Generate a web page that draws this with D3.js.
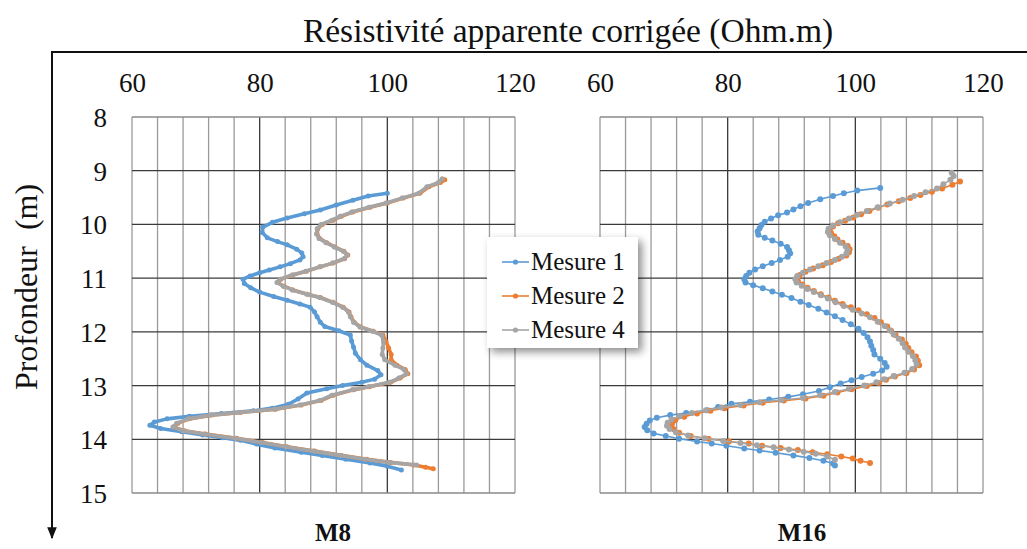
<!DOCTYPE html>
<html>
<head>
<meta charset="utf-8">
<script src="https://cdn.jsdelivr.net/npm/d3@7"></script>
<style>
html,body{margin:0;padding:0;background:#fff;}
svg{display:block;}
text{font-family:"Liberation Serif","Times New Roman",serif;fill:#111;}
</style>
</head>
<body>
<svg id="chart" width="1027" height="549"></svg>
<script>
// ---------- DATA ----------
const xTickValues = [60, 80, 100, 120];
const depthTicks = [8, 9, 10, 11, 12, 13, 14, 15];
const seriesNames = ["Mesure 1", "Mesure 2", "Mesure 4"];
const panelNames = ["M8", "M16"];
const xTitle = "Résistivité apparente corrigée (Ohm.m)";
const yTitle = "Profondeur  (m)";

// [depth (m), resistivity (Ohm.m)]
const m8Mesure1 = [[9.42,100],[9.47,97],[9.55,94.6],[9.64,92],[9.73,89.5],[9.80,87],[9.88,84.3],[9.96,82],[10.05,80.5],[10.15,80.4],[10.25,81.2],[10.32,82.8],[10.38,84.3],[10.46,85.8],[10.53,86.6],[10.60,86.8],[10.66,86.3],[10.73,84.8],[10.79,83.2],[10.85,81.5],[10.90,80],[10.96,78.5],[11.02,77.4],[11.10,77.6],[11.18,78.6],[11.26,80],[11.34,82.2],[11.41,84.3],[11.48,86.3],[11.54,87.9],[11.63,88.6],[11.72,89],[11.82,89.5],[11.90,90.2],[11.98,92.4],[12.06,94.2],[12.17,94.4],[12.28,94.7],[12.40,95],[12.52,95.8],[12.62,96.8],[12.72,98.5],[12.80,99],[12.88,98],[12.94,96],[13.00,93],[13.06,90.5],[13.14,87.4],[13.25,86],[13.35,84.5],[13.42,82],[13.47,79],[13.52,74],[13.57,69],[13.62,65.5],[13.68,63.5],[13.74,62.8],[13.80,64.5],[13.86,67.8],[13.92,71.1],[13.97,74.2],[14.02,77],[14.09,79.5],[14.16,82.4],[14.24,86.5],[14.30,89.8],[14.37,93.5],[14.44,97.3],[14.50,100],[14.57,102.2]];

const m8Mesure2 = [[9.17,109],[9.22,108.3],[9.30,106.5],[9.42,105.1],[9.51,102.5],[9.60,100],[9.68,97.3],[9.77,94.6],[9.85,92.8],[9.92,91.5],[10.00,89.8],[10.08,89.1],[10.18,89],[10.26,89.4],[10.34,90.5],[10.42,91.8],[10.50,93.2],[10.57,93.8],[10.64,93.3],[10.72,91.5],[10.79,89.5],[10.87,87.3],[10.94,85.2],[11.02,83.3],[11.08,82.8],[11.15,83.8],[11.22,85.2],[11.30,87.5],[11.36,89.5],[11.45,91.5],[11.54,93.1],[11.63,94],[11.72,94.3],[11.82,94.8],[11.91,95.8],[11.99,97.8],[12.06,99.3],[12.18,99.8],[12.30,100.2],[12.42,100.6],[12.52,100.6],[12.62,101.5],[12.70,102.8],[12.78,103.2],[12.86,102],[12.94,100.5],[13.02,97.2],[13.08,94.7],[13.18,91.5],[13.28,89.6],[13.36,86.5],[13.44,82.5],[13.50,77],[13.55,72.5],[13.62,69],[13.70,67.2],[13.77,66.5],[13.84,68.2],[13.90,71.5],[13.98,76.4],[14.06,80.5],[14.14,84.3],[14.22,88.6],[14.30,92.8],[14.37,96.8],[14.43,100.5],[14.48,104.2],[14.52,106],[14.55,107.2]];

const m8Mesure4 = [[9.15,108.6],[9.22,108],[9.30,106.2],[9.42,104.9],[9.51,102.3],[9.60,99.8],[9.68,97.1],[9.77,94.4],[9.85,92.6],[9.92,91.3],[10.00,89.6],[10.08,89],[10.18,88.9],[10.26,89.3],[10.34,90.4],[10.42,91.7],[10.50,93.1],[10.57,93.7],[10.64,93.2],[10.72,91.4],[10.79,89.4],[10.87,87.2],[10.94,85.1],[11.02,83.2],[11.08,82.7],[11.15,83.7],[11.22,85.1],[11.30,87.4],[11.36,89.4],[11.45,91.4],[11.54,93],[11.63,93.9],[11.72,94.2],[11.82,94.7],[11.91,95.7],[11.99,97.7],[12.06,99.1],[12.18,99.4],[12.30,99.3],[12.42,99.2],[12.52,99.6],[12.62,101.2],[12.70,102.6],[12.78,103],[12.86,101.8],[12.94,100.3],[13.02,97],[13.08,94.5],[13.18,91.3],[13.28,89.4],[13.36,86.3],[13.44,82.3],[13.50,76.8],[13.55,72.3],[13.62,68.8],[13.70,67],[13.77,66.4],[13.84,68],[13.90,71.3],[13.98,76.2],[14.06,80.3],[14.14,84.1],[14.22,88.4],[14.30,92.6],[14.37,96.5],[14.43,100.2],[14.48,104.6]];

const m16Mesure1 = [[9.32,103.9],[9.37,100.3],[9.42,98.2],[9.47,96.5],[9.53,94.5],[9.60,92.6],[9.66,91.4],[9.72,90.3],[9.78,89.3],[9.83,87.9],[9.89,86.8],[9.95,85.8],[10.01,85.3],[10.07,85],[10.13,84.7],[10.19,84.8],[10.25,85.8],[10.30,87],[10.36,88.3],[10.42,89.3],[10.48,89.6],[10.54,89.8],[10.60,89.4],[10.66,88.2],[10.72,86.9],[10.78,85.5],[10.84,84.3],[10.90,83.4],[10.96,82.9],[11.02,82.6],[11.08,82.8],[11.13,84],[11.19,85.5],[11.25,87],[11.31,88.5],[11.37,90],[11.44,91.4],[11.50,92.7],[11.57,94.2],[11.64,95.5],[11.71,96.8],[11.78,98],[11.86,99.3],[11.94,100.5],[12.02,101.3],[12.10,101.9],[12.18,102.3],[12.26,102.5],[12.34,102.8],[12.42,103],[12.50,103.9],[12.58,104.6],[12.65,104.9],[12.72,104.2],[12.78,102.8],[12.84,101],[12.90,99.4],[12.96,97.7],[13.03,96],[13.10,94.3],[13.16,91.8],[13.21,89.5],[13.26,86.5],[13.30,83.5],[13.34,80.6],[13.40,78.5],[13.46,76.8],[13.51,73.5],[13.55,71],[13.60,68.9],[13.65,67.8],[13.71,67.3],[13.77,67],[13.83,67.4],[13.89,68.4],[13.94,70.3],[13.99,72.4],[14.04,75.2],[14.08,77.5],[14.12,79.8],[14.17,82.6],[14.21,85],[14.25,87.5],[14.30,90.3],[14.35,92.8],[14.40,95],[14.45,96.5],[14.49,96.8]];

const m16Mesure2 = [[9.20,116.4],[9.26,115.2],[9.33,113.6],[9.39,112],[9.45,110.2],[9.51,108.6],[9.57,106.8],[9.63,105],[9.69,103.6],[9.75,102.2],[9.81,100.9],[9.87,99.7],[9.93,98.4],[9.98,97.3],[10.04,96.5],[10.10,96],[10.16,96.2],[10.22,96.7],[10.28,97.2],[10.34,98],[10.40,98.8],[10.46,99.1],[10.52,99],[10.58,98.6],[10.64,97.4],[10.70,96.2],[10.76,94.9],[10.82,93.4],[10.88,92.2],[10.94,91.3],[11.00,90.9],[11.06,91],[11.12,91.7],[11.18,92.5],[11.24,93.5],[11.30,94.6],[11.36,95.8],[11.42,96.8],[11.48,98],[11.54,99.3],[11.60,100.5],[11.67,101.8],[11.74,103],[11.82,104],[11.90,105],[11.98,105.6],[12.06,106.3],[12.14,107.3],[12.22,107.9],[12.30,108.3],[12.38,108.8],[12.46,109.5],[12.54,109.8],[12.62,110],[12.70,109.2],[12.77,108],[12.83,106.2],[12.89,104.8],[12.95,103.7],[13.01,101.8],[13.07,99.4],[13.13,97.2],[13.19,95],[13.24,92.2],[13.28,88.8],[13.32,85.5],[13.37,82.5],[13.42,79.5],[13.47,77.3],[13.52,75.2],[13.58,73.2],[13.64,71.8],[13.70,71.3],[13.76,71.2],[13.82,71.6],[13.88,72.4],[13.94,74.2],[13.99,77],[14.04,80.2],[14.08,83.3],[14.12,85.4],[14.16,88.3],[14.20,91],[14.24,93.3],[14.28,95.6],[14.32,97.8],[14.36,99.6],[14.40,100.8],[14.44,102.3]];

const m16Mesure4 = [[9.04,115.1],[9.10,115.4],[9.17,114.9],[9.25,113.8],[9.33,112.8],[9.40,111],[9.47,109.2],[9.54,107.4],[9.61,105.4],[9.68,103.5],[9.75,101.8],[9.82,100.3],[9.89,99],[9.96,97.6],[10.02,96.5],[10.08,95.8],[10.14,95.7],[10.20,96],[10.27,96.8],[10.34,97.6],[10.41,98.5],[10.48,98.8],[10.54,98.6],[10.60,97.9],[10.66,96.8],[10.72,95.5],[10.78,94.2],[10.84,92.9],[10.90,91.8],[10.96,90.9],[11.02,90.6],[11.08,90.8],[11.14,91.6],[11.20,92.5],[11.26,93.5],[11.32,94.6],[11.38,95.7],[11.45,96.9],[11.52,98.2],[11.59,99.6],[11.66,101],[11.73,102.3],[11.81,103.5],[11.89,104.6],[11.97,105.4],[12.05,106],[12.13,106.8],[12.21,107.4],[12.29,107.8],[12.37,108.3],[12.45,109],[12.53,109.4],[12.61,109.6],[12.69,108.9],[12.76,107.7],[12.82,106],[12.88,104.5],[12.94,103.3],[13.00,101.4],[13.06,99],[13.12,96.8],[13.18,94.5],[13.23,91.8],[13.27,88.4],[13.31,85],[13.36,82],[13.41,79],[13.46,76.6],[13.51,74.4],[13.57,72.5],[13.63,71.2],[13.69,70.6],[13.75,70.5],[13.81,70.9],[13.87,71.9],[13.93,73.8],[13.98,76.4],[14.03,79.3],[14.07,82],[14.11,84.6],[14.15,87.2],[14.19,89.6],[14.23,91.9],[14.27,93.8],[14.32,95.6],[14.38,96.8]];

const colors = ["#5B9BD5", "#ED7D31", "#A5A5A5"];

// ---------- LAYOUT ----------
const svg = d3.select("#chart");
const yScale = d3.scaleLinear().domain([8, 15]).range([117, 493]);
const panels = [
  {name: panelNames[0], x: d3.scaleLinear().domain([60, 120]).range([132, 515]), series: [m8Mesure1, m8Mesure2, m8Mesure4], thick: true, labelX: 333},
  {name: panelNames[1], x: d3.scaleLinear().domain([60, 120]).range([600, 983]), series: [m16Mesure1, m16Mesure2, m16Mesure4], thick: false, labelX: 802}
];

svg.append("defs").append("marker")
  .attr("id", "arrow").attr("viewBox", "0 0 10 10").attr("refX", 9).attr("refY", 5)
  .attr("markerWidth", 6).attr("markerHeight", 6).attr("orient", "auto")
  .append("path").attr("d", "M0,1 L10,5 L0,9 z").attr("fill", "#111");

const shadow = svg.select("defs").append("filter").attr("id", "shadow")
  .attr("x", "-20%").attr("y", "-20%").attr("width", "150%").attr("height", "150%");
shadow.append("feGaussianBlur").attr("in", "SourceAlpha").attr("stdDeviation", 4);
shadow.append("feOffset").attr("dx", 4).attr("dy", 4).attr("result", "ob");
shadow.append("feComponentTransfer").append("feFuncA").attr("type", "linear").attr("slope", 0.45);
const mrg = shadow.append("feMerge");
mrg.append("feMergeNode");
mrg.append("feMergeNode").attr("in", "SourceGraphic");

svg.append("line").attr("x1", 52).attr("x2", 1027).attr("y1", 52).attr("y2", 52)
  .attr("stroke", "#111").attr("stroke-width", 2);
svg.append("line").attr("x1", 52).attr("x2", 52).attr("y1", 51).attr("y2", 538)
  .attr("stroke", "#111").attr("stroke-width", 2).attr("marker-end", "url(#arrow)");

svg.append("text").attr("x", 568).attr("y", 42).attr("text-anchor", "middle")
  .style("font-size", "33.5px").text(xTitle);

svg.append("text").attr("transform", "translate(37,287) rotate(-90)")
  .attr("text-anchor", "middle").style("font-size", "32px").style("white-space", "pre")
  .attr("xml:space", "preserve").text(yTitle);

const line = (x) => d3.line().x(d => x(d[1])).y(d => yScale(d[0]));

panels.forEach((p, pi) => {
  const g = svg.append("g");
  const [x0, x1] = p.x.range();
  const vTicks = d3.range(60, 120.01, 4);
  g.selectAll(".vg").data(vTicks).join("line")
    .attr("x1", d => p.x(d)).attr("x2", d => p.x(d))
    .attr("y1", yScale(8)).attr("y2", yScale(15))
    .attr("stroke", d => (d === 80 || d === 100) ? "#3a3a3a" : "#9a9a9a")
    .attr("stroke-width", 1.3);
  g.selectAll(".hg").data(depthTicks).join("line")
    .attr("x1", x0).attr("x2", x1)
    .attr("y1", d => yScale(d)).attr("y2", d => yScale(d))
    .attr("stroke", d => (d === 8 || d === 15) ? "#8a8a8a" : "#3a3a3a")
    .attr("stroke-width", 1.3);

  const ax = g.append("g").attr("transform", "translate(0,83)")
    .call(d3.axisTop(p.x).tickValues(xTickValues).tickSize(0).tickPadding(0));
  ax.select(".domain").remove();
  ax.selectAll("text").attr("font-family", null).style("font-size", "27px").attr("dy", "0.35em").attr("y", 0).attr("fill", "#111");

  if (pi === 0) {
    const ay = g.append("g").attr("transform", "translate(107,0)")
      .call(d3.axisLeft(yScale).tickValues(depthTicks).tickSize(0).tickPadding(0).tickFormat(d3.format("d")));
    ay.select(".domain").remove();
    ay.selectAll("text").attr("font-family", null).style("font-size", "27px").attr("x", 0).attr("dy", "0.35em").attr("fill", "#111");
  }

  p.series.forEach((s, si) => {
    const sg = g.append("g");
    sg.append("path").datum(s).attr("d", line(p.x))
      .attr("fill", "none").attr("stroke", colors[si])
      .attr("stroke-width", p.thick ? 3.6 : 1.6).attr("stroke-linejoin", "round");
    sg.selectAll("circle").data(s).join("circle")
      .attr("cx", d => p.x(d[1])).attr("cy", d => yScale(d[0]))
      .attr("r", p.thick ? 2.5 : 3).attr("fill", colors[si]);
  });

  svg.append("text").attr("x", p.labelX).attr("y", 541).attr("text-anchor", "middle")
    .style("font-size", "25px").style("font-weight", "bold").text(p.name);
});

const lg = svg.append("g");
lg.append("rect").attr("x", 487).attr("y", 237).attr("width", 151).attr("height", 111)
  .attr("fill", "#fff").attr("filter", "url(#shadow)");
seriesNames.forEach((n, i) => {
  const yy = 262 + i * 34;
  lg.append("line").attr("x1", 502).attr("x2", 529).attr("y1", yy).attr("y2", yy)
    .attr("stroke", colors[i]).attr("stroke-width", 1.6);
  lg.append("circle").attr("cx", 515.5).attr("cy", yy).attr("r", 2.6).attr("fill", colors[i]);
  lg.append("text").attr("x", 531).attr("y", yy + 8).style("font-size", "25px").text(n);
});
</script>
</body>
</html>
